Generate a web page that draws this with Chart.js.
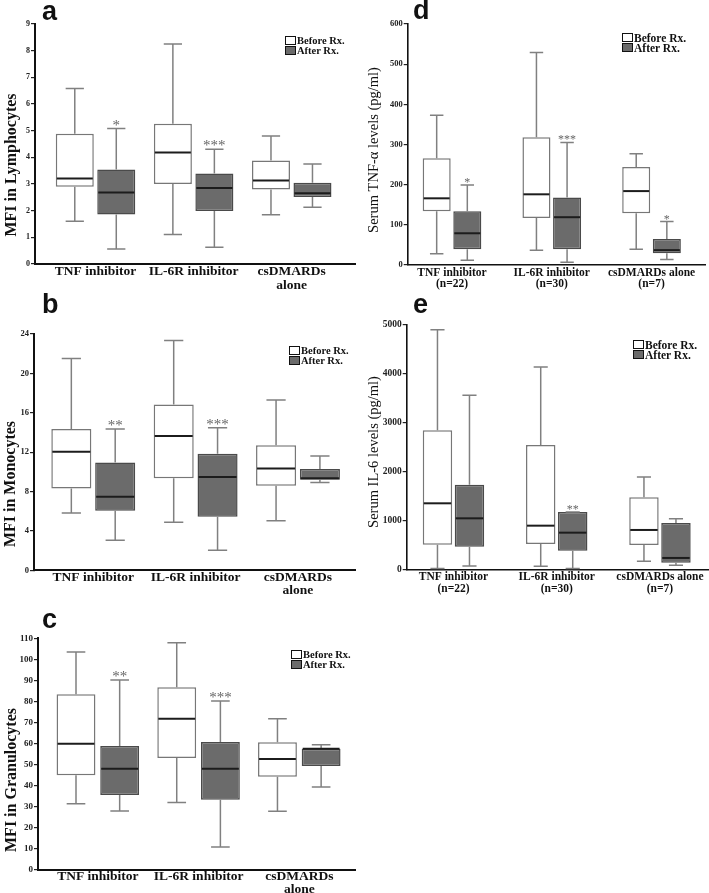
<!DOCTYPE html>
<html>
<head>
<meta charset="utf-8">
<script src="https://cdn.jsdelivr.net/npm/chart.js@4/dist/chart.umd.min.js"></script>
<style>
  body{margin:0;background:#fff;width:709px;height:893px;position:relative;overflow:hidden;font-family:'Liberation Serif','Times New Roman',serif}
  canvas{position:absolute}
  .lbl{position:absolute;font:bold 27px 'Liberation Sans',Arial,sans-serif;line-height:1;color:#111}
  .leg{position:absolute;font-weight:bold;color:#111;white-space:nowrap}
  .leg div{height:10px;line-height:10px}
  .leg i{display:inline-block;box-sizing:border-box;width:11px;height:9px;border:1px solid #111;vertical-align:top;margin-right:1px}
  .leg i.w{background:#fff}
  .leg i.g{background:#6b6b6b}
</style>
</head>
<body>
<canvas id="ca" width="360" height="300" style="left:0;top:0"></canvas>
<canvas id="cb" width="360" height="300" style="left:0;top:300px"></canvas>
<canvas id="cc" width="360" height="293" style="left:0;top:600px"></canvas>
<canvas id="cd" width="349" height="300" style="left:360px;top:0"></canvas>
<canvas id="ce" width="349" height="300" style="left:360px;top:300px"></canvas>

<div class="lbl" style="left:42px;top:-2px">a</div>
<div class="lbl" style="left:42px;top:291px">b</div>
<div class="lbl" style="left:42px;top:606px">c</div>
<div class="lbl" style="left:413px;top:-3px">d</div>
<div class="lbl" style="left:413px;top:291px">e</div>

<div class="leg" style="left:285px;top:36px;font-size:10.5px"><div><i class="w"></i>Before Rx.</div><div><i class="g"></i>After Rx.</div></div>
<div class="leg" style="left:289px;top:346px;font-size:10.5px"><div><i class="w"></i>Before Rx.</div><div><i class="g"></i>After Rx.</div></div>
<div class="leg" style="left:291px;top:650px;font-size:10.5px"><div><i class="w"></i>Before Rx.</div><div><i class="g"></i>After Rx.</div></div>
<div class="leg" style="left:622px;top:33px;font-size:11.5px"><div><i class="w"></i>Before Rx.</div><div><i class="g"></i>After Rx.</div></div>
<div class="leg" style="left:633px;top:340px;font-size:11.5px"><div><i class="w"></i>Before Rx.</div><div><i class="g"></i>After Rx.</div></div>

<script>
const CATS_MFI = ['TNF inhibitor', 'IL-6R inhibitor', ['csDMARDs', 'alone']];
const CATS_SERUM = [['TNF inhibitor', '(n=22)'], ['IL-6R inhibitor', '(n=30)'], ['csDMARDs alone', '(n=7)']];

// each row: [min, q1, median, q3, max]
const lymBefore = [[1.6, 2.9, 3.21, 4.88, 6.58], [1.11, 3.0, 4.18, 5.26, 8.25], [1.85, 2.79, 3.13, 3.88, 4.8]];
const lymAfter  = [[0.56, 1.86, 2.68, 3.54, 5.08], [0.63, 1.99, 2.85, 3.39, 4.3], [2.13, 2.51, 2.65, 3.05, 3.75]];
const lymStars  = ['*', '***', ''];

const monoBefore = [[5.82, 8.32, 12.04, 14.35, 21.5], [4.87, 9.34, 13.63, 16.85, 23.35], [5.04, 8.59, 10.35, 12.69, 17.29]];
const monoAfter  = [[3.05, 6.05, 7.47, 10.96, 14.35], [2.03, 5.44, 9.47, 11.84, 14.48], [8.93, 9.2, 9.34, 10.28, 11.6]];
const monoStars  = ['**', '***', ''];

const granBefore = [[31.4, 44.9, 59.9, 83.4, 103.5], [31.9, 53.1, 71.8, 86.7, 107.9], [27.8, 44.2, 52.6, 60.6, 71.8]];
const granAfter  = [[27.9, 35.5, 48.0, 58.8, 90.2], [10.8, 33.3, 48.0, 60.7, 80.2], [39.3, 49.3, 57.5, 57.5, 59.4]];
const granStars  = ['**', '***', ''];

const tnfBefore = [[28, 134, 166, 266, 373], [37, 117, 176, 318, 529], [39, 129, 184, 244, 277]];
const tnfAfter  = [[12, 39, 79, 134, 199], [7, 39, 119, 168, 305], [14, 29, 37, 65, 108]];
const tnfStars  = ['*', '***', '*'];

const il6Before = [[14, 504, 1349, 2840, 4898], [61, 518, 892, 2541, 4135], [163, 497, 804, 1471, 1887]];
const il6After  = [[68, 463, 1042, 1730, 3556], [14, 381, 749, 1172, 1172], [82, 136, 232, 947, 1035]];
const il6Stars  = ['', '**', ''];

// whiskers, caps, medians and significance marks on top of the floating bars
const boxParts = {
  id: 'boxParts',
  afterDatasetsDraw(chart, args, opts){
    const {ctx} = chart; const y = chart.scales.y;
    const py = v => y.getPixelForValue(v);
    chart.data.datasets.forEach((ds, i) => {
      chart.getDatasetMeta(i).data.forEach((bar, j) => {
        const [lo, q1, med, q3, hi] = ds.stats[j];
        const x = bar.x, half = bar.width/2, cap = bar.width*0.24;
        ctx.save();
        ctx.strokeStyle = '#808080'; ctx.lineWidth = 1.5;
        ctx.beginPath();
        if(hi > q3){ ctx.moveTo(x, py(q3)); ctx.lineTo(x, py(hi)); }
        ctx.moveTo(x-cap, py(hi)); ctx.lineTo(x+cap, py(hi));
        if(lo < q1){ ctx.moveTo(x, py(q1)); ctx.lineTo(x, py(lo)); }
        ctx.moveTo(x-cap, py(lo)); ctx.lineTo(x+cap, py(lo));
        ctx.stroke();
        ctx.strokeStyle = '#1c1c1c'; ctx.lineWidth = 2;
        ctx.beginPath(); ctx.moveTo(x-half+1, py(med)); ctx.lineTo(x+half-1, py(med)); ctx.stroke();
        const s = ds.stars && ds.stars[j];
        if(s){
          ctx.fillStyle = '#666'; ctx.font = opts.starFont;
          ctx.textAlign = 'center'; ctx.textBaseline = 'alphabetic';
          ctx.fillText(s, x, py(hi) + opts.starDy);
        }
        ctx.restore();
      });
    });
  }
};

// rotated y title, placed like the source figure (not centred on the axis)
const sideTitle = {
  id: 'sideTitle',
  afterDraw(chart, args, opts){
    const {ctx} = chart;
    ctx.save();
    ctx.translate(opts.x, opts.y);
    ctx.rotate(-Math.PI/2);
    ctx.font = opts.font; ctx.fillStyle = '#111';
    ctx.textAlign = 'center'; ctx.textBaseline = 'middle';
    ctx.fillText(opts.text, 0, 0);
    ctx.restore();
  }
};

function mkSet(label, rows, fill, edge, stars){
  return {label, data: rows.map((r, i) => ({x: i+1, y: [r[1], r[3]]})), stats: rows, stars: stars || [],
    backgroundColor: fill, borderColor: edge, borderWidth: 1.5, borderSkipped: false};
}

function boxChart(id, o){
  new Chart(document.getElementById(id), {
    type: 'bar',
    data: {datasets: [mkSet('Before Rx.', o.before, '#ffffff', '#777777'), mkSet('After Rx.', o.after, '#6b6b6b', '#4a4a4a', o.stars)]},
    options: {
      responsive: false, animation: false, events: [],
      categoryPercentage: o.cp, barPercentage: o.bp,
      layout: {padding: {top: o.top, right: o.right, left: 0, bottom: 0}},
      plugins: {legend: {display: false}, tooltip: {enabled: false},
        boxParts: {starFont: o.starFont, starDy: o.starDy},
        sideTitle: {text: o.title, font: o.titleFont, x: o.titleX, y: o.titleY}},
      scales: {
        x: {type: 'linear', min: o.xmin, max: o.xmax, offset: false,
          afterBuildTicks: s => { s.ticks = [1, 2, 3].map(v => ({value: v})); },
          afterFit: s => { s.height = o.xH; },
          grid: {display: false, drawTicks: false},
          border: {display: true, color: '#111', width: o.axisW},
          ticks: {autoSkip: false, maxRotation: 0, padding: o.xPad, color: '#111',
            font: {family: 'Liberation Serif', weight: 'bold', size: o.xFont, lineHeight: 1.0},
            callback: v => o.cats[v-1]}},
        y: {min: 0, max: o.ymax,
          afterFit: s => { s.width = o.yW; },
          grid: {drawOnChartArea: false, drawTicks: true, tickLength: 4, color: '#222', lineWidth: 1.2},
          border: {display: true, color: '#111', width: o.axisW},
          ticks: {stepSize: o.step, padding: 1, color: '#222', callback: v => String(v),
            font: {family: 'Liberation Serif', weight: 'bold', size: o.yFont}}}
      }
    },
    plugins: [boxParts, sideTitle]
  });
}

const MFI_TITLE_FONT = 'bold 16px "Liberation Serif"';
const SERUM_TITLE_FONT = '14.5px "Liberation Serif"';

boxChart('ca', {before: lymBefore, after: lymAfter, stars: lymStars, cats: CATS_MFI,
  ymax: 9, step: 1, xmin: 0.383, xmax: 3.645, cp: 0.846, bp: 0.916,
  top: 24, right: 5, yW: 35, xH: 36, xFont: 13.5, xPad: 1, axisW: 2, yFont: 8,
  title: 'MFI in Lymphocytes', titleFont: MFI_TITLE_FONT, titleX: 12, titleY: 165,
  starFont: '15px "Liberation Serif"', starDy: 1});

boxChart('cb', {before: monoBefore, after: monoAfter, stars: monoStars, cats: CATS_MFI,
  ymax: 24, step: 4, xmin: 0.421, xmax: 3.557, cp: 0.857, bp: 0.913,
  top: 34, right: 5, yW: 34, xH: 29.7, xFont: 13.5, xPad: 0, axisW: 2, yFont: 8.5,
  title: 'MFI in Monocytes', titleFont: MFI_TITLE_FONT, titleX: 11, titleY: 184,
  starFont: '15px "Liberation Serif"', starDy: 1});

boxChart('cc', {before: granBefore, after: granAfter, stars: granStars, cats: CATS_MFI,
  ymax: 110, step: 10, xmin: 0.406, xmax: 3.553, cp: 0.867, bp: 0.89,
  top: 38.3, right: 5, yW: 38, xH: 23.3, xFont: 13.5, xPad: 0, axisW: 2, yFont: 9,
  title: 'MFI in Granulocytes', titleFont: MFI_TITLE_FONT, titleX: 12, titleY: 180,
  starFont: '15px "Liberation Serif"', starDy: 1});

boxChart('cd', {before: tnfBefore, after: tnfAfter, stars: tnfStars, cats: CATS_SERUM,
  ymax: 600, step: 100, xmin: 0.556, xmax: 3.536, cp: 0.614, bp: 0.915,
  top: 24, right: 4, yW: 47.7, xH: 35, xFont: 11.5, xPad: 2, axisW: 1.6, yFont: 8.5,
  title: 'Serum TNF-α levels (pg/ml)', titleFont: SERUM_TITLE_FONT, titleX: 14, titleY: 150,
  starFont: '12px "Liberation Serif"', starDy: 1});

boxChart('ce', {before: il6Before, after: il6After, stars: il6Stars, cats: CATS_SERUM,
  ymax: 5000, step: 1000, xmin: 0.547, xmax: 3.475, cp: 0.62, bp: 0.92,
  top: 24.7, right: 0, yW: 46.7, xH: 30.7, xFont: 11.5, xPad: 2, axisW: 1.6, yFont: 9.5,
  title: 'Serum IL-6 levels (pg/ml)', titleFont: SERUM_TITLE_FONT, titleX: 14, titleY: 152,
  starFont: '12px "Liberation Serif"', starDy: 1});
</script>
</body>
</html>
